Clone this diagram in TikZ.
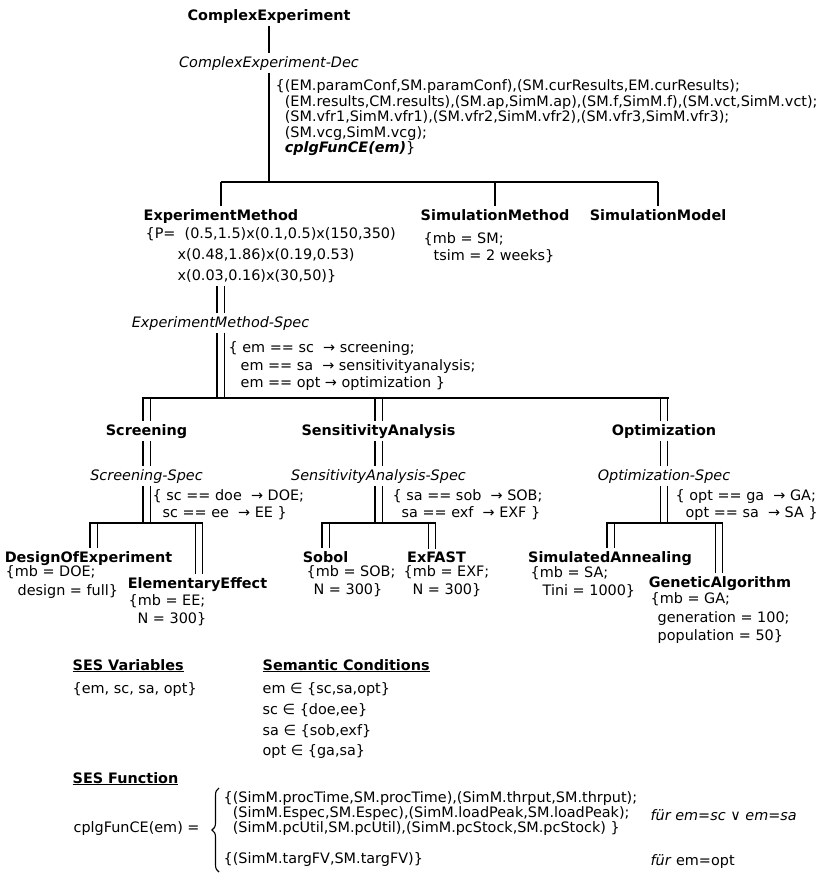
\documentclass[tikz,border=0pt]{standalone}
\usepackage{fontspec}
\setmainfont{DejaVu Sans}
\usetikzlibrary{calc,decorations.pathreplacing}

\begin{document}
\fontsize{14.4}{17}\selectfont
\begin{tikzpicture}[x=1pt,y=-1pt,
  line width=1.3pt,
  every node/.style={inner sep=2pt},
  title/.style={font=\bfseries, anchor=base},
  spec/.style={font=\itshape, anchor=base},
  blk/.style={align=left, anchor=north west, font=\fontsize{14.4}{#1}\selectfont},
  blk/.default=17,
  dbl/.style={double, double distance=6pt}]

  \useasboundingbox (0,0) rectangle (825,873);

  \node[title] (ce) at (269,20) {ComplexExperiment};
  \node[spec] (ced) at (269,67) {ComplexExperiment-Dec};
  \node[blk=15.5] (cpl) at (273,77) {\{(EM.paramConf,SM.paramConf),(SM.curResults,EM.curResults);\\
    \phantom{\{}(EM.results,CM.results),(SM.ap,SimM.ap),(SM.f,SimM.f),(SM.vct,SimM.vct);\\
    \phantom{\{}(SM.vfr1,SimM.vfr1),(SM.vfr2,SimM.vfr2),(SM.vfr3,SimM.vfr3);\\
    \phantom{\{}(SM.vcg,SimM.vcg);\\
    \phantom{\{}\textbf{\textit{cplgFunCE(em)}}\}};

  \node[title] (em) at (221,220) {ExperimentMethod};
  \node[blk=21] (emp) at (143,225) {\{P=\ \ (0.5,1.5)x(0.1,0.5)x(150,350)\\
    \hspace*{32pt}x(0.48,1.86)x(0.19,0.53)\\
    \hspace*{32pt}x(0.03,0.16)x(30,50)\}};
  \node[title] (smeth) at (495,220) {SimulationMethod};
  \node[blk] (smethd) at (421,230) {\{mb = SM;\\ \hspace*{10pt}tsim = 2 weeks\}};
  \node[title] (smod) at (658,220) {SimulationModel};

  \node[spec] (ems) at (220.5,327) {ExperimentMethod-Spec};
  \node[blk=17.5] (emsd) at (226,339) {\{ em == sc\ \ → screening;\\
    \hspace*{12pt}em == sa\ \ → sensitivityanalysis;\\
    \hspace*{12pt}em == opt → optimization \}};

  \node[title] (scr) at (146.5,435) {Screening};
  \node[title] (sa) at (378.5,435) {SensitivityAnalysis};
  \node[title] (opt) at (664,435) {Optimization};
  \node[spec] (scrs) at (146.5,480) {Screening-Spec};
  \node[spec] (sas) at (378.5,480) {SensitivityAnalysis-Spec};
  \node[spec] (opts) at (664,480) {Optimization-Spec};
  \node[blk] (scrsd) at (150,487) {\{ sc == doe\ \ → DOE;\\ \hspace*{10pt}sc == ee\ \ → EE \}};
  \node[blk] (sasd) at (390,487) {\{ sa == sob\ \ → SOB;\\ \hspace*{9pt}sa == exf\ \ → EXF \}};
  \node[blk] (optsd) at (673,487) {\{ opt == ga\ \ → GA;\\ \hspace*{10pt}opt == sa\ \ → SA \}};

  \node[title] (doe) at (88.5,562) {DesignOfExperiment};
  \node[blk=19] (doed) at (3,563) {\{mb = DOE;\\ \hspace*{12pt}design = full\}};
  \node[title] (ee) at (197.5,588) {ElementaryEffect};
  \node[blk=18] (eed) at (126,592) {\{mb = EE;\\ \hspace*{9pt}N = 300\}};
  \node[title] (sob) at (325.5,562) {Sobol};
  \node[blk=18] (sobd) at (304,563) {\{mb = SOB;\\ \hspace*{7pt}N = 300\}};
  \node[title] (exf) at (436.5,562) {ExFAST};
  \node[blk=18] (exfd) at (401,563) {\{mb = EXF;\\ \hspace*{9pt}N = 300\}};
  \node[title] (sim) at (610,562) {SimulatedAnnealing};
  \node[blk=18] (simd) at (528,564) {\{mb = SA;\\ \hspace*{12pt}Tini = 1000\}};
  \node[title] (ga) at (720,587) {GeneticAlgorithm};
  \node[blk=18.5] (gad) at (648,590) {\{mb = GA;\\ \hspace*{7pt}generation = 100;\\ \hspace*{7pt}population = 50\}};

  \node[anchor=base west, font=\bfseries] (vars) at (70,670) {\underline{SES Variables}};
  \node[anchor=base west] (varsd) at (70,693) {\{em, sc, sa, opt\}};
  \node[anchor=base west, font=\bfseries] (cond) at (260,670) {\underline{Semantic Conditions}};
  \node[blk=20.7] (condd) at (260,680) {em ∈ \{sc,sa,opt\}\\ sc ∈ \{doe,ee\}\\ sa ∈ \{sob,exf\}\\ opt ∈ \{ga,sa\}};
  \node[anchor=base west, font=\bfseries] (fun) at (70,783) {\underline{SES Function}};
  \node[anchor=base west] (cplg) at (71,832) {cplgFunCE(em) =};
  \node[blk=15] (case1) at (221,789) {\{(SimM.procTime,SM.procTime),(SimM.thrput,SM.thrput);\\
    \phantom{\{}(SimM.Espec,SM.Espec),(SimM.loadPeak,SM.loadPeak);\\
    \phantom{\{}(SimM.pcUtil,SM.pcUtil),(SimM.pcStock,SM.pcStock) \}};
  \node[anchor=base west] (case2) at (221,863) {\{(SimM.targFV,SM.targFV)\}};
  \node[anchor=base west] (when1) at (648,820) {\textit{für em=sc} ∨ \textit{em=sa}};
  \node[anchor=base west] (when2) at (648,865) {\textit{für} em=opt};

  \coordinate (ceL) at (221,182);
  \coordinate (ceR) at (658,182);
  \coordinate (emL) at (141.5,398);
  \coordinate (emR) at (669,398);
  \coordinate (d1) at (93.5,523);
  \coordinate (d2) at (199,523);
  \coordinate (d3) at (325.5,523);
  \coordinate (d4) at (432,523);
  \coordinate (d5) at (610.5,523);
  \coordinate (d6) at (719,523);

  \draw (ce) -- (ced);
  \draw (ced) -- (ced |- ceL);
  \draw (ceL) -- (ceR);
  \foreach \n in {em,smeth,smod}
    \draw (ceL -| \n) -- (\n);

  \draw[dbl] (emp.south -| ems) -- (ems);
  \draw[dbl] (ems) -- (ems |- emL);
  \foreach \n in {scr,sa,opt}
    \draw[dbl] (emL -| \n) -- (\n);
  \foreach \p/\c in {scr/scrs,sa/sas,opt/opts}
    \draw[dbl] (\p) -- (\c);
  \foreach \c/\d in {scrs/d1,sas/d3,opts/d5}
    \draw[dbl] (\c) -- (\c |- \d);
  \foreach \d/\n in {d1/doe,d2/ee,d3/sob,d4/exf,d5/sim,d6/ga}
    \draw[dbl] (\d) -- (\d |- \n.north);
  \draw (emL) -- (emR);
  \foreach \a/\b in {d1/d2,d3/d4,d5/d6}
    \draw ($(\a)+(-4.3,0)$) -- ($(\b)+(4.3,0)$);

  \draw[decorate, decoration={brace, amplitude=7pt}, line width=1.1pt] (219,872) -- (219,788);
\end{tikzpicture}
\end{document}
